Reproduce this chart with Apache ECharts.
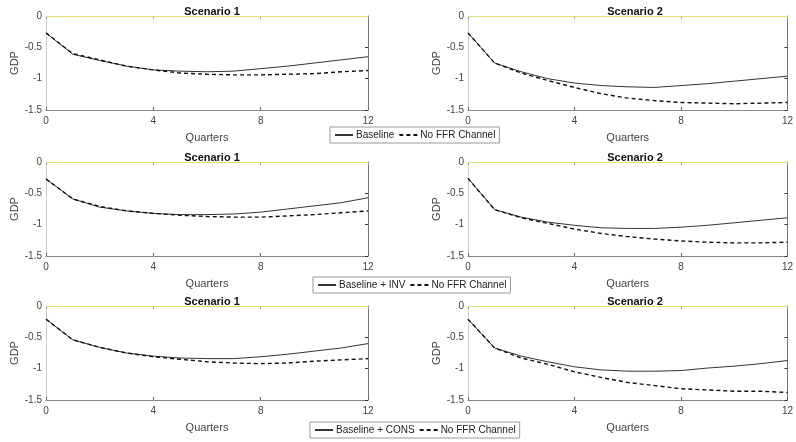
<!DOCTYPE html>
<html><head><meta charset="utf-8">
<script src="https://cdn.jsdelivr.net/npm/echarts@6/dist/echarts.min.js"></script>
<style>html,body{margin:0;padding:0;background:#fff}#c{width:796px;height:442px}</style>
</head><body><div id="c"></div>
<script>
const quarters = [0,1,2,3,4,5,6,7,8,9,10,11,12];
const xTicks = [0,4,8,12];
const yTicks = [0,-0.5,-1,-1.5];
const titles = ["Scenario 1","Scenario 2"];
const legendNames = [["Baseline","No FFR Channel"],["Baseline + INV","No FFR Channel"],["Baseline + CONS","No FFR Channel"]];
// row 1
const r1s1Base = [-0.27,-0.61,-0.71,-0.80,-0.86,-0.88,-0.89,-0.88,-0.84,-0.80,-0.75,-0.70,-0.65];
const r1s1NoFFR = [-0.27,-0.60,-0.70,-0.80,-0.86,-0.91,-0.93,-0.94,-0.94,-0.93,-0.92,-0.89,-0.87];
const r1s2Base = [-0.27,-0.75,-0.89,-1.00,-1.07,-1.11,-1.13,-1.14,-1.11,-1.08,-1.04,-1.00,-0.96];
const r1s2NoFFR = [-0.27,-0.75,-0.91,-1.03,-1.14,-1.24,-1.31,-1.35,-1.38,-1.39,-1.40,-1.39,-1.38];
// row 2
const r2s1Base = [-0.27,-0.59,-0.72,-0.78,-0.82,-0.84,-0.84,-0.83,-0.80,-0.75,-0.70,-0.65,-0.57];
const r2s1NoFFR = [-0.27,-0.59,-0.71,-0.78,-0.82,-0.85,-0.87,-0.88,-0.88,-0.86,-0.84,-0.81,-0.78];
const r2s2Base = [-0.26,-0.76,-0.88,-0.96,-1.01,-1.05,-1.06,-1.06,-1.04,-1.01,-0.97,-0.93,-0.89];
const r2s2NoFFR = [-0.26,-0.76,-0.89,-0.98,-1.07,-1.14,-1.19,-1.23,-1.26,-1.28,-1.29,-1.29,-1.28];
// row 3
const r3s1Base = [-0.21,-0.54,-0.66,-0.75,-0.80,-0.83,-0.84,-0.84,-0.81,-0.77,-0.72,-0.67,-0.60];
const r3s1NoFFR = [-0.21,-0.54,-0.66,-0.75,-0.81,-0.85,-0.89,-0.91,-0.92,-0.91,-0.88,-0.86,-0.84];
const r3s2Base = [-0.21,-0.67,-0.80,-0.89,-0.97,-1.02,-1.04,-1.04,-1.03,-0.99,-0.96,-0.92,-0.87];
const r3s2NoFFR = [-0.21,-0.67,-0.83,-0.93,-1.05,-1.14,-1.22,-1.27,-1.32,-1.34,-1.36,-1.36,-1.38];

const panels = [
  [r1s1Base,r1s1NoFFR],[r1s2Base,r1s2NoFFR],
  [r2s1Base,r2s1NoFFR],[r2s2Base,r2s2NoFFR],
  [r3s1Base,r3s1NoFFR],[r3s2Base,r3s2NoFFR]
];
const rowTops = [16,162,306];
const colLeft = [46,468];
const colW = [322,324];
const H = 94;
const FONT = 'Liberation Sans, Arial, sans-serif';
const grid=[], xAxis=[], yAxis=[], series=[], title=[], legend=[];
const pair = a => quarters.map((q,i)=>[q,a[i]]);
panels.forEach((p,k)=>{
  const row = Math.floor(k/2), col = k%2;
  grid.push({left:colLeft[col], top:rowTops[row], width:colW[col], height:H, show:false});
  title.push({text:titles[col], left:colLeft[col]+colW[col]/2, top:rowTops[row]-15, textAlign:'center',
    textStyle:{fontFamily:FONT, fontSize:11, fontWeight:'bold', color:'#111'}});
  xAxis.push({type:'value', gridIndex:k, min:0, max:12, interval:4,
    name:'Quarters', nameLocation:'middle', nameGap:22, nameTextStyle:{fontFamily:FONT,fontSize:11,color:'#444'},
    axisLine:{show:true,onZero:false,lineStyle:{color:'#888',width:1}},
    axisTick:{show:true,inside:true,length:3,lineStyle:{color:'#666'}},
    axisLabel:{fontFamily:FONT,fontSize:10,color:'#444',margin:6,formatter:v=>xTicks.includes(v)?String(v):''},
    splitLine:{show:false}});
  xAxis.push({type:'value', gridIndex:k, position:'top', min:0, max:12, interval:4,
    axisLine:{show:false},
    axisTick:{show:true,inside:true,length:3,lineStyle:{color:'#999'}},
    axisLabel:{show:false}, splitLine:{show:false}});
  yAxis.push({type:'value', gridIndex:k, min:-1.5, max:0, interval:0.5,
    name:'GDP', nameLocation:'middle', nameGap:26, nameRotate:90, nameTextStyle:{fontFamily:FONT,fontSize:11,color:'#444'},
    axisLine:{show:true,onZero:false,lineStyle:{color:'#ccc',width:1}},
    axisTick:{show:false},
    axisLabel:{fontFamily:FONT,fontSize:10,color:'#444',margin:4,formatter:v=>yTicks.includes(v)?String(v):''},
    splitLine:{show:false}});
  yAxis.push({type:'value', gridIndex:k, position:'right', min:-1.5, max:0, interval:0.5,
    axisLine:{show:true,onZero:false,lineStyle:{color:'#777',width:1}},
    axisTick:{show:true,inside:true,length:3,lineStyle:{color:'#333'}},
    axisLabel:{show:false}, splitLine:{show:false}});
  const names = legendNames[row];
  series.push({type:'line', name:names[0], xAxisIndex:2*k, yAxisIndex:2*k, data:pair(p[0]), showSymbol:false, symbol:'none',
    lineStyle:{color:'#333',width:1}, itemStyle:{color:'#333'}, animation:false, clip:false,
    markLine:{silent:true, symbol:'none', label:{show:false}, animation:false,
      lineStyle:{color:'#e4dc78',type:'solid',width:1}, data:[{yAxis:0}]}});
  series.push({type:'line', name:names[1], xAxisIndex:2*k, yAxisIndex:2*k, data:pair(p[1]), showSymbol:false, symbol:'none',
    lineStyle:{color:'#111',width:1.4,type:[4,3]}, itemStyle:{color:'#111'}, animation:false});
});
const legendBoxes = [{left:330,top:127},{left:313,top:277},{left:310,top:422}];
legendNames.forEach((n,i)=>{
  legend.push({data:n, left:legendBoxes[i].left, top:legendBoxes[i].top, orient:'horizontal',
    itemWidth:18, itemHeight:8, itemGap:4, padding:[3,4,3,4], borderColor:'#999', borderWidth:1,
    backgroundColor:'#fff', itemStyle:{opacity:0, borderWidth:0},
    textStyle:{fontFamily:FONT,fontSize:10,color:'#222',padding:[0,0,0,-2]}});
});
const chart = echarts.init(document.getElementById('c'), null, {renderer:'canvas'});
chart.setOption({animation:false, backgroundColor:'#fff', title, legend, grid, xAxis, yAxis, series});
</script></body></html>
